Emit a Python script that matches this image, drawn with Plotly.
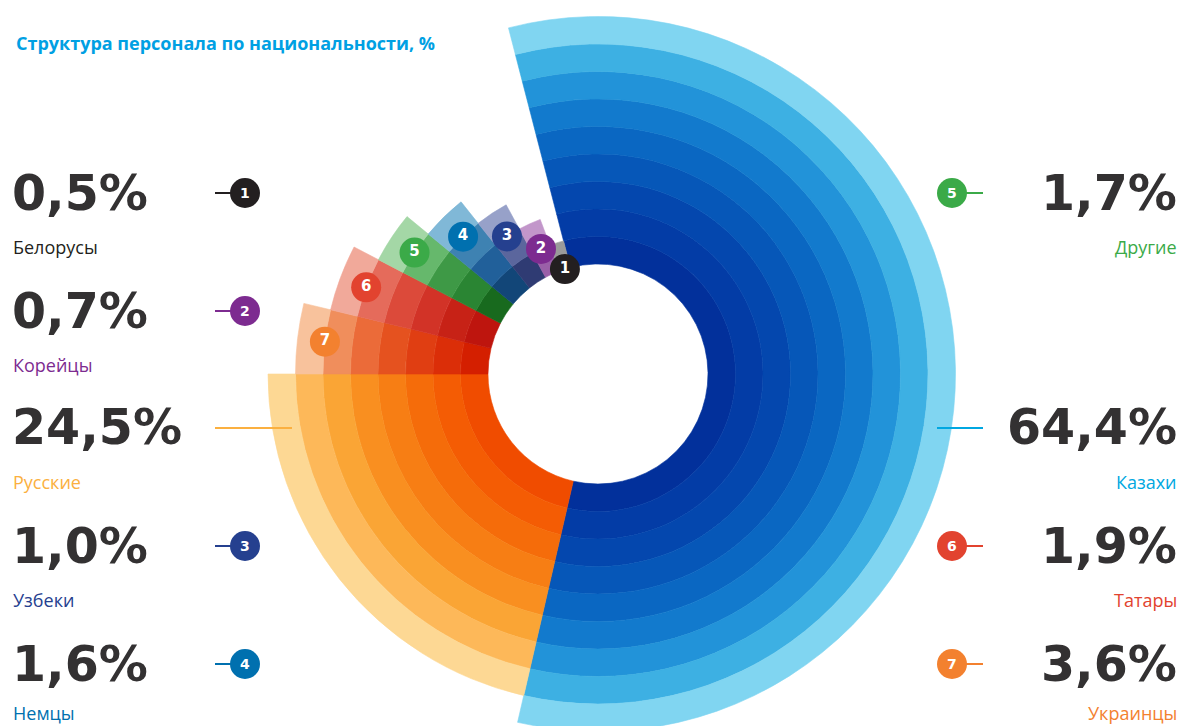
import plotly.graph_objects as go

# ---------------- data ----------------
categories = ["Казахи", "Русские", "Украинцы", "Татары", "Другие", "Немцы", "Узбеки", "Корейцы", "Белорусы"]
shares = [64.4, 24.5, 3.6, 1.9, 1.7, 1.6, 1.0, 0.7, 0.5]
ring_counts = [9, 8, 7, 6, 5, 4, 3, 2, 1]
badge_numbers = [None, None, 7, 6, 5, 4, 3, 2, 1]
title_text = "Структура персонала по национальности, %"

# ---------------- style / layout ----------------
W, H = 1188, 726
OFF = 8                               # page body margin of the browser
CX, CY = 598, 374                     # polar centre (page px)
RING_PX = 27.5
HOLE = 4                              # empty rings in the middle
RPX = (H + OFF) - CY                  # polar radius that fits the figure
R_MAX = RPX / RING_PX
START_DEG = -14.5
sector_deg = [207.5, 77, 13.5, 14, 12, 12, 10, 8, 6]
RIGHT_EDGE = 1179

band_colors = [
    ["#02309B", "#033CA6", "#0447AE", "#0657B8", "#0A67C2", "#127ACD", "#2293D9", "#3DB0E3", "#80D5F1"],
    ["#F04C00", "#F45C04", "#F56C0A", "#F77E14", "#F98F20", "#FAA535", "#FDB859", "#FDD894"],
    ["#D41F00", "#DB2E08", "#E03E12", "#E5521F", "#EB6B39", "#F08E5C", "#F8C29C"],
    ["#BE150E", "#C72216", "#D23327", "#DC4A3A", "#E56B5B", "#F1A99A"],
    ["#186A1E", "#2A8533", "#3E9946", "#66B86C", "#A4D7A6"],
    ["#124678", "#21609A", "#3E82B2", "#80B8D7"],
    ["#2F3B73", "#5B669D", "#97A1C9"],
    ["#9A5FA8", "#C296CA"],
    ["#9A9A9A"],
]
accent = ["#00A7E1", "#FBB040", "#F3812F", "#E2432F", "#3BAA48", "#0070AF", "#25408F", "#7D2B90", "#231F20"]

NUM_FONT = "DejaVu Sans"
LBL_FONT = "Open Sans"
NUM_COLOR = "#333132"

fig = go.Figure()

# wedges made of concentric rings
acc = START_DEG
centers = []
for i, cat in enumerate(categories):
    w = sector_deg[i]
    c = acc + w / 2
    centers.append(c)
    acc += w
    n = ring_counts[i]
    cols = band_colors[i]
    fig.add_trace(go.Barpolar(
        r=[1] * n,
        base=[HOLE + k for k in range(n)],
        theta=[c] * n,
        width=[w] * n,
        marker=dict(color=cols, line=dict(color=cols, width=0.6)),
        name=cat,
        hoverinfo="skip",
        showlegend=False,
    ))

# numbered badges on the chart
for i, num in enumerate(badge_numbers):
    if num is None:
        continue
    fig.add_trace(go.Scatterpolar(
        r=[HOLE + ring_counts[i] - 1],
        theta=[centers[i]],
        mode="markers+text",
        text=[f"<b>{num}</b>"],
        textposition="middle center",
        textfont=dict(family=NUM_FONT, size=15, color="white"),
        marker=dict(size=30, color=accent[i], line=dict(width=0)),
        cliponaxis=False,
        hoverinfo="skip",
        showlegend=False,
    ))


def px(x):
    return (x - OFF) / W


def py(y):
    return 1 - (y - OFF) / H


def fmt(v):
    return f"{v:.1f}".replace(".", ",") + "%"


annotations = [dict(
    x=px(14), y=py(43), xref="paper", yref="paper", xanchor="left", yanchor="middle",
    text=f"<b>{title_text}</b>", showarrow=False,
    font=dict(family=LBL_FONT, size=18, color="#00A0E3"),
)]
shapes = []

row_y = [193, 311, 428, 546, 664]
label_y = [247, 365, 482, 600, 713]
left_rows = [(8, 0), (7, 1), (1, 2), (6, 3), (5, 4)]       # (category index, row)
right_rows = [(4, 0), (0, 2), (3, 3), (2, 4)]


def badge(cx, cy, idx):
    num = badge_numbers[idx]
    r = 15
    shapes.append(dict(type="circle", xref="paper", yref="paper",
                       x0=px(cx - r), x1=px(cx + r), y0=py(cy + r), y1=py(cy - r),
                       fillcolor=accent[idx], line=dict(width=0), layer="above"))
    annotations.append(dict(x=px(cx), y=py(cy), xref="paper", yref="paper",
                            xanchor="center", yanchor="middle",
                            text=f"<b>{num}</b>", showarrow=False,
                            font=dict(family=NUM_FONT, size=14, color="white")))


def hline(x0, x1, y, idx):
    shapes.append(dict(type="line", xref="paper", yref="paper",
                       x0=px(x0), x1=px(x1), y0=py(y), y1=py(y),
                       line=dict(color=accent[idx], width=2), layer="above"))


for idx, row in left_rows:
    y = row_y[row]
    annotations.append(dict(x=px(10), y=py(y), xref="paper", yref="paper",
                            xanchor="left", yanchor="middle", showarrow=False,
                            text=f"<b>{fmt(shares[idx])}</b>",
                            font=dict(family=NUM_FONT, size=49, color=NUM_COLOR)))
    annotations.append(dict(x=px(11), y=py(label_y[row]), xref="paper", yref="paper",
                            xanchor="left", yanchor="middle", showarrow=False,
                            text=categories[idx],
                            font=dict(family=LBL_FONT, size=18, color=accent[idx])))
    if badge_numbers[idx] is None:
        hline(215, 292, y, idx)
    else:
        hline(215, 235, y, idx)
        badge(245, y, idx)

for idx, row in right_rows:
    y = row_y[row]
    annotations.append(dict(x=px(RIGHT_EDGE), y=py(y), xref="paper", yref="paper",
                            xanchor="right", yanchor="middle", showarrow=False,
                            text=f"<b>{fmt(shares[idx])}</b>",
                            font=dict(family=NUM_FONT, size=49, color=NUM_COLOR)))
    annotations.append(dict(x=px(RIGHT_EDGE), y=py(label_y[row]), xref="paper", yref="paper",
                            xanchor="right", yanchor="middle", showarrow=False,
                            text=categories[idx],
                            font=dict(family=LBL_FONT, size=18, color=accent[idx])))
    if badge_numbers[idx] is None:
        hline(937, 983, y, idx)
    else:
        hline(962, 983, y, idx)
        badge(952, y, idx)

fig.update_layout(
    width=W, height=H,
    margin=dict(l=0, r=0, t=0, b=0),
    paper_bgcolor="white",
    plot_bgcolor="white",
    showlegend=False,
    polar=dict(
        domain=dict(x=[px(CX - RPX), px(CX + RPX)], y=[max(0.0, py(CY + RPX)), py(CY - RPX)]),
        bgcolor="rgba(0,0,0,0)",
        barmode="overlay",
        bargap=0,
        hole=0,
        radialaxis=dict(range=[0, R_MAX], visible=False, showgrid=False),
        angularaxis=dict(visible=False, showgrid=False, direction="clockwise", rotation=90),
    ),
    annotations=annotations,
    shapes=shapes,
)

fig.write_html("out.html")
